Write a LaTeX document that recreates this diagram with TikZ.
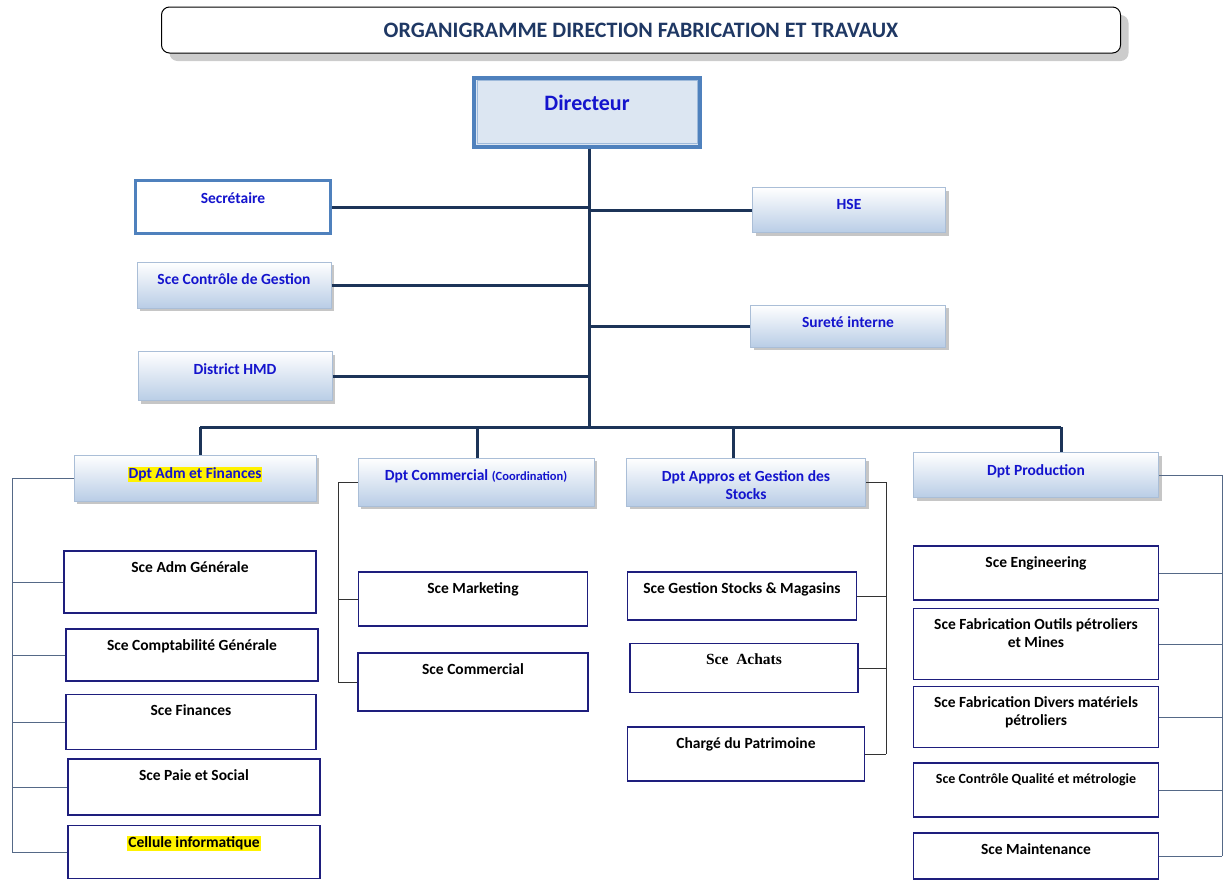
\documentclass[tikz,border=0pt]{standalone}
\usepackage{fontspec}
\setmainfont{Carlito}
\newfontfamily\timesfont{Liberation Serif}
\usepackage{xcolor}
\usetikzlibrary{shadows}

\definecolor{titlenavy}{RGB}{31,56,100}
\definecolor{lblblue}{RGB}{20,20,205}
\definecolor{trunkcol}{RGB}{28,52,88}
\definecolor{svcborder}{RGB}{30,30,125}
\definecolor{railcol}{RGB}{85,105,135}
\definecolor{boxblue}{RGB}{79,129,189}
\definecolor{dptfill}{RGB}{185,205,230}
\definecolor{dptline}{RGB}{170,190,215}
\definecolor{dirfill}{RGB}{220,230,242}

\newcommand{\surligne}[1]{{\setlength{\fboxsep}{1pt}\colorbox{yellow}{#1}}}

\tikzset{
  dpt/.style={draw=dptline, line width=1pt, top color=white, bottom color=dptfill,
    drop shadow={shadow xshift=3pt, shadow yshift=-3pt, fill=gray!45, opacity=1}},
  svc/.style={draw=svcborder, line width=1.6pt, fill=white},
  bluetxt/.style={anchor=north, yshift=-11pt, inner sep=1pt, text=lblblue,
    font=\fontsize{15.5}{18}\selectfont\bfseries, align=center},
  blacktxt/.style={anchor=north, yshift=-10pt, inner sep=1pt, text=black,
    font=\fontsize{15.5}{18}\selectfont\bfseries, align=center},
  trunk/.style={draw=trunkcol, line width=3pt},
  rail/.style={draw=railcol, line width=1pt},
  darkrail/.style={draw=black!80, line width=1pt}
}

\begin{document}
\begin{tikzpicture}[x=1pt, y=-1pt]
  \useasboundingbox (0,0) rectangle (1228,879);

  % title
  \node[draw, line width=1pt, rounded corners=8pt, fill=white, minimum width=959, minimum height=46,
    drop shadow={shadow xshift=8pt, shadow yshift=-8pt, fill=gray!40, opacity=1},
    text=titlenavy, font=\fontsize{22}{24}\selectfont\bfseries] (title) at (641,30)
    {ORGANIGRAMME DIRECTION FABRICATION ET TRAVAUX};

  % direction
  \node[draw=boxblue, line width=4pt, fill=dirfill, minimum width=226, minimum height=69,
    label={[bluetxt, yshift=-7pt, font=\fontsize{22}{24}\selectfont\bfseries]north:Directeur}] (dir) at (587,112) {};
  \draw[boxblue!55, line width=1pt] ([shift={(5,5)}]dir.north west) rectangle ([shift={(-5,-5)}]dir.south east);

  \node[draw=boxblue, line width=3pt, fill=white, minimum width=195, minimum height=53,
    label={[bluetxt, yshift=-1pt]north:Secrétaire}] (sec) at (233,207) {};
  \node[dpt, minimum width=194, minimum height=46, label={[bluetxt]north:Sce Contrôle de Gestion}] (ctrl) at (234,285) {};
  \node[dpt, minimum width=194, minimum height=49, label={[bluetxt]north:District HMD}] (dist) at (235,376) {};
  \node[dpt, minimum width=193, minimum height=45, label={[bluetxt]north:HSE}] (hse) at (849,210) {};
  \node[dpt, minimum width=195, minimum height=42, label={[bluetxt]north:Sureté interne}] (sur) at (848,326) {};

  % departements
  \node[dpt, minimum width=242, minimum height=46, label={[bluetxt]north:\surligne{Dpt Adm et Finances}}] (adm) at (195,478) {};
  \node[dpt, minimum width=236, minimum height=48,
    label={[bluetxt]north:Dpt Commercial {\fontsize{12.5}{14}\selectfont(Coordination)}}] (com) at (476,482) {};
  \node[dpt, minimum width=239, minimum height=48,
    label={[bluetxt, yshift=-1pt]north:{Dpt Appros et Gestion des\\Stocks}}] (app) at (746,482) {};
  \node[dpt, minimum width=245, minimum height=45, label={[bluetxt]north:Dpt Production}] (prod) at (1036,475) {};

  % services adm et finances
  \node[svc, minimum width=252, minimum height=62, label={[blacktxt]north:Sce Adm Générale}] (admgen) at (190,582) {};
  \node[svc, minimum width=252, minimum height=52, label={[blacktxt]north:Sce Comptabilité Générale}] (compta) at (192,655) {};
  \node[svc, minimum width=250, minimum height=55, label={[blacktxt]north:Sce Finances}] (fin) at (191,722) {};
  \node[svc, minimum width=252, minimum height=56, label={[blacktxt]north:Sce Paie et Social}] (paie) at (194,787) {};
  \node[svc, minimum width=252, minimum height=53, label={[blacktxt]north:\surligne{Cellule informatique}}] (info) at (194,852) {};

  % services commercial
  \node[svc, minimum width=229, minimum height=54, label={[blacktxt]north:Sce Marketing}] (mkt) at (473,599) {};
  \node[svc, minimum width=230, minimum height=58, label={[blacktxt]north:Sce Commercial}] (comm) at (473,682) {};

  % services appros
  \node[svc, minimum width=229, minimum height=48, label={[blacktxt]north:Sce Gestion Stocks \& Magasins}] (gsm) at (742,596) {};
  \node[svc, minimum width=228, minimum height=49,
    label={[blacktxt, font=\fontsize{15.5}{18}\selectfont\timesfont\bfseries]north:Sce\ \ Achats}] (ach) at (744,668) {};
  \node[svc, minimum width=237, minimum height=54, label={[blacktxt]north:Chargé du Patrimoine}] (patr) at (746,754) {};

  % services production
  \node[svc, minimum width=245, minimum height=54, label={[blacktxt]north:Sce Engineering}] (eng) at (1036,573) {};
  \node[svc, minimum width=245, minimum height=71,
    label={[blacktxt]north:{Sce Fabrication Outils pétroliers\\et Mines}}] (fop) at (1036,644) {};
  \node[svc, minimum width=245, minimum height=61,
    label={[blacktxt]north:{Sce Fabrication Divers matériels\\pétroliers}}] (fdm) at (1036,717) {};
  \node[svc, minimum width=245, minimum height=54,
    label={[blacktxt, font=\fontsize{14}{16}\selectfont\bfseries]north:Sce Contrôle Qualité et métrologie}] (cq) at (1036,790) {};
  \node[svc, minimum width=245, minimum height=46, label={[blacktxt]north:Sce Maintenance}] (maint) at (1036,856) {};

  % liaisons direction
  \coordinate (bus) at (589,427);
  \coordinate (d1) at (200,427);
  \coordinate (d2) at (477,427);
  \coordinate (d3) at (733,427);
  \coordinate (d4) at (1061,427);
  \draw[trunk] (dir.south -| bus) -- (bus);
  \foreach \n in {sec,ctrl,dist}
    \draw[trunk] (\n.east) -- (\n.east -| bus);
  \foreach \n in {hse,sur}
    \draw[trunk] (\n.west) -- (\n.west -| bus);
  \draw[trunk] (d1) -- (d4);
  \draw[trunk] (d1) -- (d1 |- adm.north);
  \draw[trunk] (d2) -- (d2 |- com.north);
  \draw[trunk] (d3) -- (d3 |- app.north);
  \draw[trunk] (d4) -- (d4 |- prod.north);

  % liaisons services
  \coordinate (r1) at (12,0);
  \coordinate (r2) at (338,0);
  \coordinate (r3) at (886,0);
  \coordinate (r4) at (1222,0);
  \draw[rail] (adm.west -| r1) -- (info.west -| r1);
  \foreach \n in {adm,admgen,compta,fin,paie,info}
    \draw[rail] (\n.west) -- (\n.west -| r1);
  \draw[darkrail] (com.west -| r2) -- (comm.west -| r2);
  \foreach \n in {com,mkt,comm}
    \draw[darkrail] (\n.west) -- (\n.west -| r2);
  \draw[darkrail] (app.east -| r3) -- (patr.east -| r3);
  \foreach \n in {app,gsm,ach,patr}
    \draw[darkrail] (\n.east) -- (\n.east -| r3);
  \draw[rail] (prod.east -| r4) -- (maint.east -| r4);
  \foreach \n in {prod,eng,fop,fdm,cq,maint}
    \draw[rail] (\n.east) -- (\n.east -| r4);
\end{tikzpicture}
\end{document}
